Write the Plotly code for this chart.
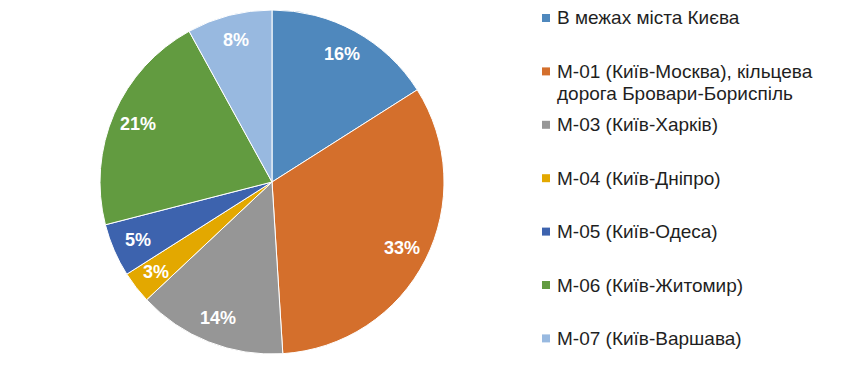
import math
import plotly.graph_objects as go

labels = [
    "В межах міста Києва",
    "М-01 (Київ-Москва), кільцева<br>дорога Бровари-Бориспіль",
    "М-03 (Київ-Харків)",
    "М-04 (Київ-Дніпро)",
    "М-05 (Київ-Одеса)",
    "М-06 (Київ-Житомир)",
    "М-07 (Київ-Варшава)",
]
values = [16, 33, 14, 3, 5, 21, 8]
colors = ["#4F88BD", "#D46F2C", "#969696", "#E3A800", "#3D63AE", "#629B40", "#98B9E0"]

W, H = 850, 374
CX, CY, R = 272, 182, 172  # pixel centre (from top) and radius

fig = go.Figure(go.Pie(
    labels=labels,
    values=values,
    sort=False,
    direction="clockwise",
    rotation=0,
    marker=dict(colors=colors, line=dict(color="white", width=1)),
    textinfo="none",
    hoverinfo="label+percent",
    showlegend=False,
    domain=dict(x=[(CX - R) / W, (CX + R) / W],
                y=[(H - CY - R) / H, (H - CY + R) / H]),
))

annotations = []
shapes = []
total = sum(values)
cum = 0
for v in values:
    mid = (cum + v / 2) / total * 2 * math.pi
    cum += v
    r = 0.85 * R
    px = CX + r * math.sin(mid)
    py = CY - r * math.cos(mid)
    annotations.append(dict(
        x=px / W, y=1 - py / H, xref="paper", yref="paper",
        text=f"<b>{round(v / total * 100)}%</b>", showarrow=False,
        font=dict(family="Liberation Sans, Arial", size=18, color="white"),
        xanchor="center", yanchor="middle",
    ))

# legend drawn as annotations + square markers
LINE_GAP = 22
for i, (lab, col) in enumerate(zip(labels, colors)):
    ly = 18 + i * 53.4
    shapes.append(dict(type="rect", xref="paper", yref="paper",
                       x0=542 / W, x1=550 / W,
                       y0=1 - (ly + 4) / H, y1=1 - (ly - 4) / H,
                       fillcolor=col, line=dict(width=0)))
    for j, line in enumerate(lab.split("<br>")):
        annotations.append(dict(
            x=554.5 / W, y=1 - (ly + j * LINE_GAP) / H, xref="paper", yref="paper",
            text=line, showarrow=False, align="left",
            font=dict(family="Liberation Sans, Arial", size=19, color="#1f1f1f"),
            xanchor="left", yanchor="middle",
        ))

fig.update_layout(
    width=W, height=H,
    margin=dict(l=0, r=0, t=0, b=0),
    paper_bgcolor="white",
    plot_bgcolor="white",
    annotations=annotations,
    shapes=shapes,
)

fig.write_html("out.html", config={"displayModeBar": False},
               post_script="document.body.style.margin='0';")
